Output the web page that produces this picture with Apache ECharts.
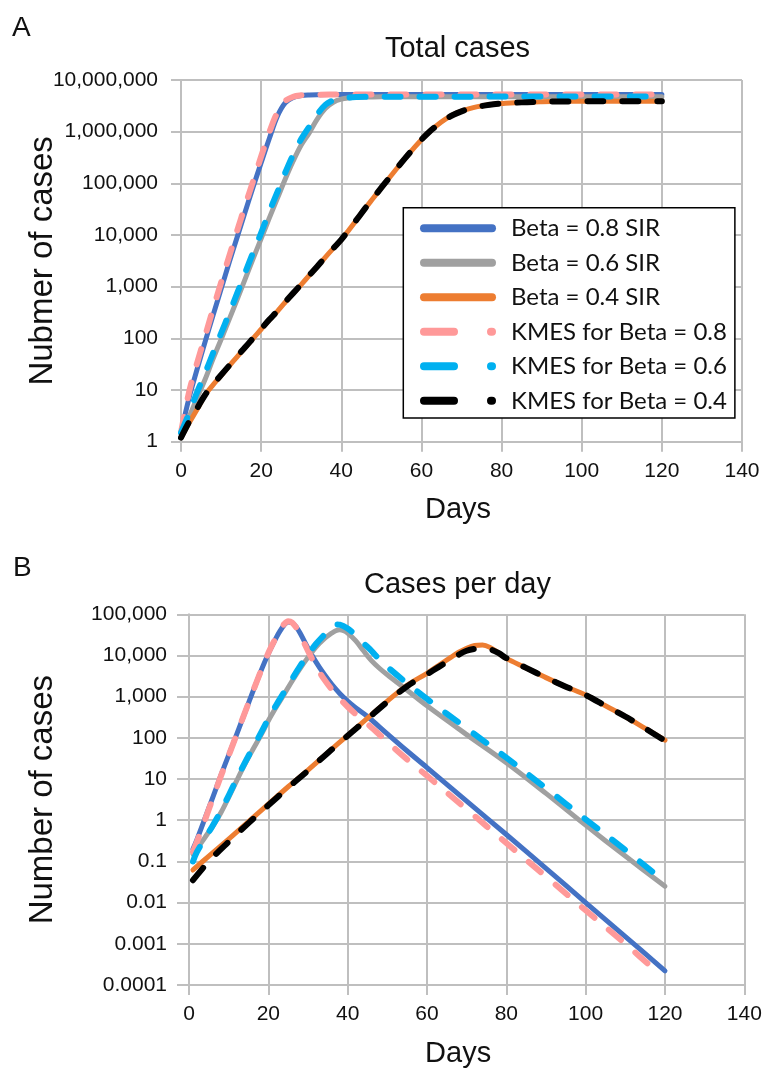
<!DOCTYPE html>
<html><head><meta charset="utf-8">
<script src="https://cdn.jsdelivr.net/npm/echarts@6/dist/echarts.min.js"></script>
<style>html,body{margin:0;padding:0;background:#fff}#c{width:763px;height:1070px}</style>
</head><body><div id="c"></div>
<script>
// ---------- data ----------
const seriesNames = ['Beta = 0.8 SIR','Beta = 0.6 SIR','Beta = 0.4 SIR','KMES for Beta = 0.8','KMES for Beta = 0.6','KMES for Beta = 0.4'];
const xTickLabels = ['0','20','40','60','80','100','120','140'];
const totalTickLabels = ['1','10','100','1,000','10,000','100,000','1,000,000','10,000,000'];
const dailyTickLabels = ['0.0001','0.001','0.01','0.1','1','10','100','1,000','10,000','100,000'];

// Panel A: total cases [day, cases]
const totalSIR08 = [[0,1.5],[2,7],[4,25],[6,85],[8,280],[10,900],[12,2900],[14,9000],[16,28000],[18,85000],[20,250000],[22,720000],[24,1950000],[26,3600000],[28,4600000],[30,5000000],[32,5150000],[34,5200000],[40,5220000],[60,5230000],[90,5230000],[120,5230000]];
const totalSIR06 = [[0,1.5],[2,3],[4,7],[6,16],[8,40],[10,95],[12,230],[14,560],[16,1400],[18,3500],[20,8500],[22,21000],[24,50000],[26,120000],[28,270000],[30,550000],[32,950000],[34,1750000],[36,2800000],[38,3700000],[40,4250000],[42,4500000],[44,4620000],[46,4680000],[50,4730000],[60,4750000],[90,4760000],[120,4760000]];
const totalSIR04 = [[0,1.2],[2,2.3],[4,4.2],[6,8],[8,12.6],[10,19],[12,29],[14,44],[16,66],[18,100],[20,150],[22,225],[24,330],[26,500],[28,740],[30,1100],[32,1650],[34,2450],[36,3700],[38,5500],[40,8100],[42,12800],[44,20500],[46,33000],[48,52000],[50,82000],[52,128000],[54,200000],[56,310000],[58,470000],[60,700000],[62,1000000],[64,1350000],[66,1750000],[68,2150000],[70,2500000],[72,2800000],[74,3050000],[76,3250000],[78,3400000],[80,3500000],[85,3700000],[90,3800000],[95,3850000],[100,3880000],[110,3900000],[120,3900000]];
const totalKMES08 = [[0,1.5],[2,9],[4,33],[6,110],[8,370],[10,1200],[12,3800],[14,12000],[16,37000],[18,110000],[20,330000],[22,950000],[24,2300000],[26,3900000],[28,4750000],[30,5050000],[32,5150000],[34,5200000],[40,5230000],[60,5240000],[90,5240000],[120,5240000]];
const totalKMES06 = [[0,1.5],[2,3.5],[4,9],[6,21],[8,52],[10,125],[12,300],[14,740],[16,1850],[18,4600],[20,11000],[22,28000],[24,66000],[26,160000],[28,360000],[30,720000],[32,1250000],[34,2150000],[36,3300000],[38,4050000],[40,4420000],[42,4600000],[44,4680000],[46,4720000],[50,4750000],[60,4760000],[90,4770000],[120,4770000]];
const totalKMES04 = [[0,1.2],[2,2.4],[4,4.4],[6,8],[8,12.8],[10,19.5],[12,29.5],[14,45],[16,67],[18,101],[20,152],[22,228],[24,335],[26,505],[28,750],[30,1110],[32,1660],[34,2470],[36,3720],[38,5520],[40,8150],[42,12900],[44,20600],[46,33200],[48,52300],[50,82500],[52,128500],[54,200500],[56,311000],[58,471000],[60,701000],[62,1000000],[64,1340000],[66,1730000],[68,2120000],[70,2470000],[72,2780000],[74,3030000],[76,3230000],[78,3390000],[80,3490000],[85,3690000],[90,3790000],[95,3840000],[100,3870000],[110,3890000],[120,3890000]];

// Panel B: cases per day [day, cases]
const dailySIR08 = [[1,0.2],[2,0.34],[4,1.1],[6,3.6],[8,12],[10,38],[12,120],[14,390],[16,1250],[18,3900],[20,11000],[22,27000],[23,40000],[24,55000],[25,65000],[26,62000],[27,50000],[28,35000],[30,15000],[32,7000],[34,3600],[36,2000],[38,1200],[40,780],[42,540],[45,330],[50,125],[55,48],[60,19],[70,2.9],[80,0.45],[90,0.068],[100,0.01],[110,0.0015],[120,0.00022]];
const dailySIR06 = [[1,0.15],[2,0.2],[4,0.38],[6,0.72],[8,1.5],[10,3.6],[12,9],[14,22],[16,50],[18,110],[20,260],[22,560],[24,1150],[26,2400],[28,4800],[30,9000],[32,16000],[34,25000],[36,35000],[37,40000],[38,42000],[39,40000],[40,35000],[42,23000],[44,13000],[46,7500],[48,4900],[50,3400],[55,1430],[60,600],[70,120],[80,25],[90,4.5],[100,0.76],[110,0.135],[120,0.025]];
const dailySIR04 = [[1,0.062],[5,0.135],[10,0.35],[15,0.93],[20,2.45],[25,6.5],[30,16.5],[35,44],[40,115],[45,300],[50,780],[55,1900],[60,3700],[63,5800],[66,9000],[68,12000],[70,15000],[72,17500],[74,18000],[76,15500],[78,11500],[80,8500],[85,5000],[90,2900],[95,1750],[100,1100],[105,600],[110,330],[115,170],[120,88]];
const dailyKMES08 = [[1,0.17],[2,0.3],[4,1.0],[6,3.4],[8,11.5],[10,37],[12,120],[14,390],[16,1250],[18,3900],[20,11500],[22,28000],[23,42000],[24,58000],[25,68000],[26,63000],[27,48000],[28,32000],[30,13000],[32,5500],[34,2700],[36,1500],[38,900],[40,570],[42,380],[45,220],[50,80],[55,30],[60,12],[70,1.85],[80,0.28],[90,0.043],[100,0.0065],[110,0.001],[119,0.00017]];
const dailyKMES06 = [[1,0.1],[2,0.17],[4,0.36],[6,0.75],[8,1.65],[10,4],[12,10],[14,24],[16,55],[18,125],[20,290],[22,630],[24,1300],[26,2700],[28,5500],[30,10500],[32,19000],[34,31000],[36,48000],[37,57000],[38,56000],[40,45000],[42,31000],[44,20000],[46,13000],[48,8000],[50,5300],[55,2100],[60,880],[70,170],[80,33],[90,6],[100,1.05],[110,0.19],[119,0.038]];
const dailyKMES04 = [[1,0.035],[5,0.1],[10,0.3],[15,0.85],[20,2.3],[25,6.2],[30,16],[35,43],[40,112],[45,290],[50,750],[55,1800],[60,3500],[63,5300],[66,8000],[68,10500],[70,13000],[72,14500],[74,15000],[76,14000],[78,11500],[80,8600],[85,5000],[90,2900],[95,1750],[100,1100],[105,600],[110,330],[115,170],[120,85]];

// ---------- styling ----------
const colors = ['#4472C4','#A0A0A0','#ED7D31','#FF9999','#00B0F0','#000000'];
const FONT = 'Liberation Sans, Arial, sans-serif';
const GRIDC = '#BFBFBF';

function mkSeries(idx, data, ai){
  const dashed = idx >= 3;
  return {
    type:'line', name: seriesNames[idx], data: data,
    xAxisIndex: ai, yAxisIndex: ai,
    symbol:'none', showSymbol:false, smooth:0.35, silent:true, animation:false,
    z: dashed ? 4 : 3,
    itemStyle:{color: colors[idx]},
    lineStyle: dashed ? {color: colors[idx], width:6, type:[16,19], cap:'round', join:'round'}
                      : {color: colors[idx], width:5, cap:'round', join:'round'}
  };
}

function xAxis(gi, tickLen, padRight){
  return {
    gridIndex: gi, type:'value', min:0, max:140, interval:20,
    axisLine:{show:true, onZero:false, lineStyle:{color:GRIDC, width:2}},
    axisTick:{show:true, length:tickLen, lineStyle:{color:GRIDC, width:2}},
    axisLabel:{margin:19, fontSize:21, fontFamily:FONT, color:'#111',
      formatter: v => xTickLabels[Math.round(v/20)]},
    splitLine:{show:true, lineStyle:{color:GRIDC, width:2}},
    name:'Days', nameLocation:'middle', nameGap:54, nameMoveOverlap:false,
    nameTextStyle:{fontSize:29, fontFamily:FONT, color:'#111', padding:[0,padRight,0,0]}
  };
}
function yAxis(gi, min, max, labels, off, name, gap, margin, tickLen){
  return {
    gridIndex: gi, type:'log', logBase:10, min:min, max:max, splitNumber:10,
    axisLine:{show:true, lineStyle:{color:GRIDC, width:2}},
    axisTick:{show:true, length:tickLen, lineStyle:{color:GRIDC, width:2}},
    minorTick:{show:false}, minorSplitLine:{show:false},
    axisLabel:{margin:margin, fontSize:21, fontFamily:FONT, color:'#111',
      formatter: v => labels[Math.round(Math.log10(v)) + off]},
    splitLine:{show:true, lineStyle:{color:GRIDC, width:2}},
    name:name, nameLocation:'middle', nameGap:gap, nameRotate:90, nameMoveOverlap:false,
    nameTextStyle:{fontSize:33, fontFamily:FONT, color:'#111'}
  };
}

const legendData = seriesNames.map((n,i) => i < 3
  ? {name:n, lineStyle:{width:8, type:[68,100], cap:'round'}}
  : {name:n, lineStyle:{width:8, type:[30,37,1,100], cap:'round'}});

const option = {
  backgroundColor:'#fff',
  animation:false,
  title:[
    {text:'A', left:12, top:14, padding:0, textStyle:{fontSize:28, fontWeight:'normal', fontFamily:FONT, color:'#111'}},
    {text:'Total cases', left:457.5, top:34.5, padding:0, textAlign:'center', textStyle:{fontSize:29, fontWeight:'normal', fontFamily:FONT, color:'#111'}},
    {text:'B', left:13, top:554, padding:0, textStyle:{fontSize:28, fontWeight:'normal', fontFamily:FONT, color:'#111'}},
    {text:'Cases per day', left:457.5, top:570, padding:0, textAlign:'center', textStyle:{fontSize:29, fontWeight:'normal', fontFamily:FONT, color:'#111'}}
  ],
  grid:[
    {left:181, top:80, width:561, height:361.7, containLabel:false, outerBoundsMode:'none'},
    {left:189, top:614.3, width:555.3, height:370.7, containLabel:false, outerBoundsMode:'none'}
  ],
  xAxis:[ xAxis(0,10,7), xAxis(1,10,17) ],
  yAxis:[
    yAxis(0, 1, 1e7, totalTickLabels, 0, 'Nubmer of cases', 122, 23, 10),
    yAxis(1, 1e-4, 1e5, dailyTickLabels, 4, 'Number of cases', 130, 22, 12)
  ],
  legend:{
    orient:'vertical', left:403.3, top:207.7,
    padding:[3.4, 8, 0, 16.7], itemGap:0,
    itemWidth:82, itemHeight:8,
    backgroundColor:'#fff', borderColor:'#000', borderWidth:1.5,
    selectedMode:false,
    itemStyle:{opacity:0},
    textStyle:{fontFamily:'Lato, sans-serif', fontSize:24, color:'#111', lineHeight:34.5},
    data: legendData
  },
  series:[
    mkSeries(0,totalSIR08,0), mkSeries(1,totalSIR06,0), mkSeries(2,totalSIR04,0),
    mkSeries(3,totalKMES08,0), mkSeries(4,totalKMES06,0), mkSeries(5,totalKMES04,0),
    mkSeries(0,dailySIR08,1), mkSeries(1,dailySIR06,1), mkSeries(2,dailySIR04,1),
    mkSeries(3,dailyKMES08,1), mkSeries(4,dailyKMES06,1), mkSeries(5,dailyKMES04,1)
  ]
};
const chart = echarts.init(document.getElementById('c'), null, {renderer:'canvas'});
chart.setOption(option);
</script></body></html>
